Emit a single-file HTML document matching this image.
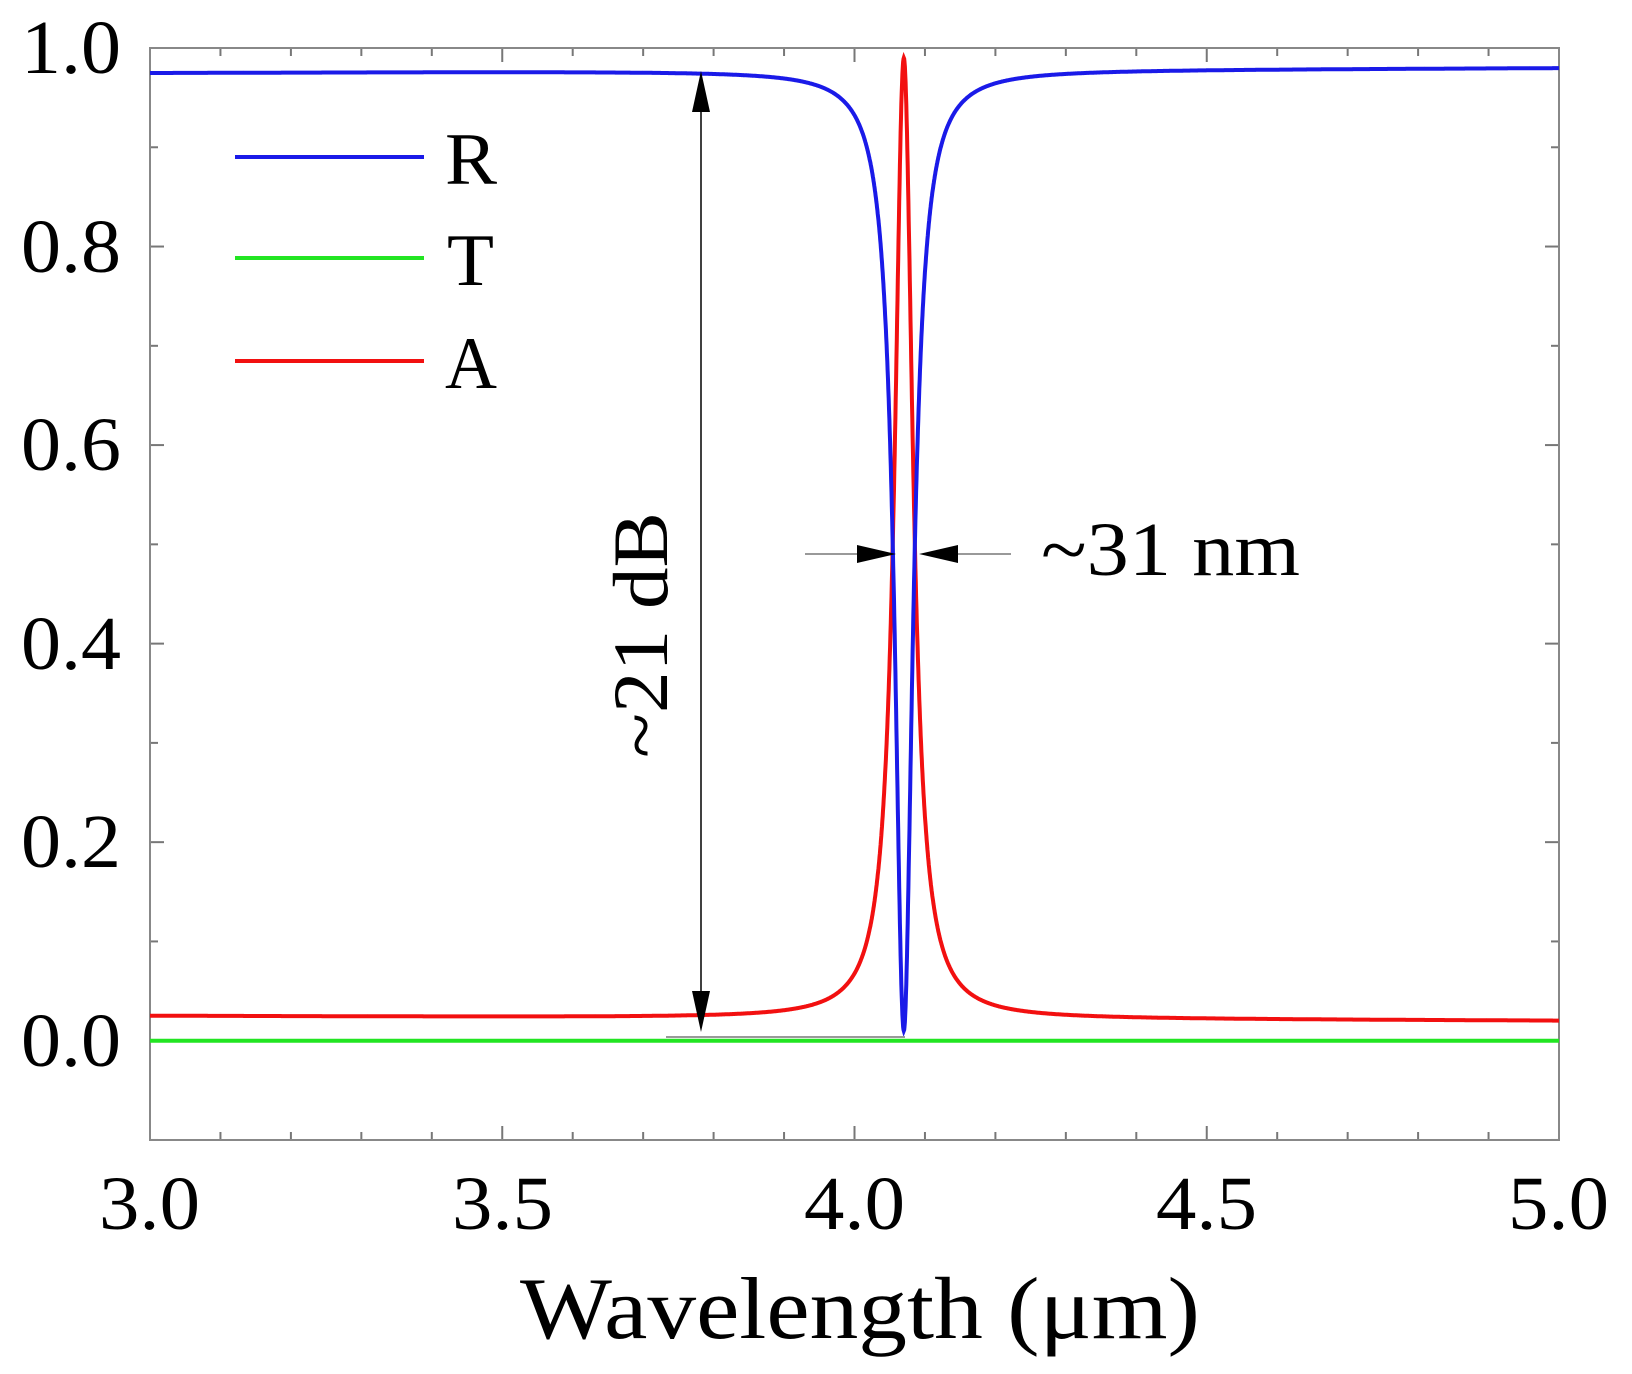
<!DOCTYPE html>
<html><head><meta charset="utf-8"><style>
html,body{margin:0;padding:0;background:#fff;}
svg{display:block;font-family:"Liberation Serif",serif;}
</style></head><body>
<svg id="s" width="1632" height="1374" viewBox="0 0 1632 1374" xmlns="http://www.w3.org/2000/svg">
<g id="ticks" stroke="#777" stroke-width="2"></g>
<rect x="150" y="48" width="1409" height="1092" fill="none" stroke="#888" stroke-width="2"/>
<g font-size="76" fill="#000">
<text x="21" y="73" textLength="100" lengthAdjust="spacingAndGlyphs">1.0</text>
<text x="21" y="272" textLength="100" lengthAdjust="spacingAndGlyphs">0.8</text>
<text x="21" y="470" textLength="100" lengthAdjust="spacingAndGlyphs">0.6</text>
<text x="21" y="669" textLength="100" lengthAdjust="spacingAndGlyphs">0.4</text>
<text x="21" y="867" textLength="100" lengthAdjust="spacingAndGlyphs">0.2</text>
<text x="21" y="1066" textLength="100" lengthAdjust="spacingAndGlyphs">0.0</text>
</g>
<g font-size="76" fill="#000">
<text x="99" y="1229" textLength="101" lengthAdjust="spacingAndGlyphs">3.0</text>
<text x="452" y="1229" textLength="101" lengthAdjust="spacingAndGlyphs">3.5</text>
<text x="804" y="1229" textLength="101" lengthAdjust="spacingAndGlyphs">4.0</text>
<text x="1156" y="1229" textLength="101" lengthAdjust="spacingAndGlyphs">4.5</text>
<text x="1508" y="1229" textLength="101" lengthAdjust="spacingAndGlyphs">5.0</text>
</g>
<text x="520" y="1338" font-size="88" textLength="680" lengthAdjust="spacingAndGlyphs">Wavelength (μm)</text>
<path id="T" fill="none" stroke="#22e522" stroke-width="4"/>
<path id="A" fill="none" stroke="#f21010" stroke-width="4"/>
<path id="R" fill="none" stroke="#1a1ae8" stroke-width="4"/>
<line x1="666" y1="1037" x2="905" y2="1037" stroke="#999" stroke-width="2"/>
<line x1="701" y1="90" x2="701" y2="1015" stroke="#000" stroke-width="1.5"/>
<polygon points="701,71 692,112 710,112" fill="#000"/>
<polygon points="701,1032 692,991 710,991" fill="#000"/>
<line x1="805" y1="554" x2="860" y2="554" stroke="#999" stroke-width="2"/>
<polygon points="896,554 857,545 857,563" fill="#000"/>
<line x1="955" y1="554" x2="1011" y2="554" stroke="#999" stroke-width="2"/>
<polygon points="919,554 958,545 958,563" fill="#000"/>
<text x="1041" y="575" font-size="76" textLength="259" lengthAdjust="spacingAndGlyphs">~31 nm</text>
<text transform="translate(667,635) rotate(-90)" font-size="78" text-anchor="middle" textLength="246" lengthAdjust="spacingAndGlyphs">~21 dB</text>
<line x1="235" y1="157" x2="424" y2="157" stroke="#1a1ae8" stroke-width="4"/>
<line x1="235" y1="258" x2="424" y2="258" stroke="#22e522" stroke-width="4"/>
<line x1="235" y1="361" x2="424" y2="361" stroke="#f21010" stroke-width="4"/>
<g font-size="74">
<text x="445" y="184" textLength="52" lengthAdjust="spacingAndGlyphs">R</text>
<text x="447" y="285" textLength="47" lengthAdjust="spacingAndGlyphs">T</text>
<text x="445" y="388" textLength="52" lengthAdjust="spacingAndGlyphs">A</text>
</g>
</svg>
<script>
var X=function(w){return 150+(w-3)*704.5;},Y=function(v){return 1040.7-v*992.7;};
var tk=document.getElementById('ticks'),h='';
for(var i=0;i<=20;i++){var x=X(3+i*0.1),L=(i%5==0)?14:8;h+='<line x1="'+x+'" y1="1140" x2="'+x+'" y2="'+(1140-L)+'"/><line x1="'+x+'" y1="48" x2="'+x+'" y2="'+(48+L)+'"/>';}
for(var j=-1;j<=10;j++){var y=Y(j*0.1),L=(j%2==0)?14:8;h+='<line x1="150" y1="'+y+'" x2="'+(150+L)+'" y2="'+y+'"/><line x1="1559" y1="'+y+'" x2="'+(1559-L)+'" y2="'+y+'"/>';}
tk.innerHTML=h;
var pa='',pr='',c=4.07,g=0.0155;
for(var k=0;k<=4000;k++){var w=3+k*0.0005;var base=0.025-0.005*(w-3)/2;var a=base+(0.99-base)/(1+Math.pow((w-c)/g,2));var r=1-a;if(r<0.008)r=0.008;
pa+=(k?'L':'M')+X(w).toFixed(1)+','+Y(a).toFixed(1);pr+=(k?'L':'M')+X(w).toFixed(1)+','+Y(r).toFixed(1);}
document.getElementById('A').setAttribute('d',pa);
document.getElementById('R').setAttribute('d',pr);
document.getElementById('T').setAttribute('d','M150,'+Y(0)+'L1559,'+Y(0));
</script>
</body></html>
